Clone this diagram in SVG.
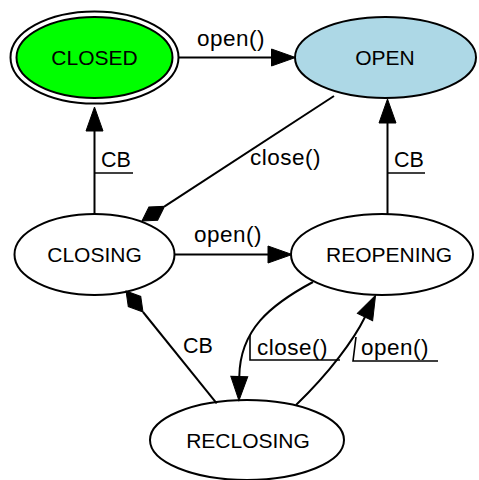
<svg xmlns="http://www.w3.org/2000/svg" width="479" height="480" viewBox="0 0 479 480">
<style>
.n{stroke:#000;stroke-width:2}
.t{font-family:"Liberation Sans",Arial,sans-serif;font-size:21px;fill:#000;text-anchor:middle}
.e{fill:none;stroke:#000;stroke-width:2}
.l{font-family:"Liberation Sans",Arial,sans-serif;font-size:22.5px;fill:#000;letter-spacing:0.5px}
.c{font-family:"Liberation Sans",Arial,sans-serif;font-size:21.5px;fill:#000}
.d{fill:none;stroke:#000;stroke-width:1.6}
</style>
<defs>
<marker id="arr" markerUnits="userSpaceOnUse" orient="auto" markerWidth="26" markerHeight="20" refX="0" refY="0" viewBox="0 -10 26 20" overflow="visible">
<path d="M0,-8.5 L24,0 L0,8.5 Z" fill="#000" stroke="#000" stroke-width="1"/>
</marker>
<marker id="dia" markerUnits="userSpaceOnUse" orient="auto" markerWidth="28" markerHeight="20" refX="0" refY="0" viewBox="0 -10 28 20" overflow="visible">
<path d="M0,0 L13.5,-8 L27,0 L13.5,8 Z" fill="#000" stroke="#000" stroke-width="1"/>
</marker>
</defs>
<rect width="479" height="480" fill="#fff"/>
<g id="CLOSED">
<ellipse class="n" cx="94.5" cy="57.5" rx="84" ry="46" fill="none"/>
<ellipse class="n" cx="94.5" cy="57.5" rx="78" ry="40.5" fill="#00ff00"/>
<text class="t" x="94.5" y="65">CLOSED</text>
</g>
<g id="OPEN">
<ellipse class="n" cx="385.5" cy="57.5" rx="90.5" ry="40.5" fill="#add8e6"/>
<text class="t" x="385" y="65">OPEN</text>
</g>
<g id="CLOSING">
<ellipse class="n" cx="94.5" cy="254.5" rx="80" ry="40.5" fill="#fff"/>
<text class="t" x="94.5" y="261.5">CLOSING</text>
</g>
<g id="REOPENING">
<ellipse class="n" cx="382" cy="254.5" rx="91" ry="40.5" fill="#fff"/>
<text class="t" x="389" y="261.5">REOPENING</text>
</g>
<g id="RECLOSING">
<ellipse class="n" cx="247" cy="440" rx="97" ry="40" fill="#fff"/>
<text class="t" x="248" y="447.5">RECLOSING</text>
</g>
<g id="connectors">
<path class="e" d="M178.5,57.5 H271.5" marker-end="url(#arr)"/>
<text class="l" x="197" y="46">open()</text>
<path class="e" d="M334,96 L164.6,206.3" marker-end="url(#dia)"/>
<text class="l" x="250" y="165">close()</text>
<path class="e" d="M94.5,214 V131" marker-end="url(#arr)"/>
<text class="c" x="101" y="167">CB</text>
<path class="d" d="M94.5,173 H133"/>
<path class="e" d="M387.5,214 V123" marker-end="url(#arr)"/>
<text class="c" x="394" y="167">CB</text>
<path class="d" d="M387.5,173 H425"/>
<path class="e" d="M174.5,254.5 H268" marker-end="url(#arr)"/>
<text class="l" x="194" y="242">open()</text>
<path class="e" d="M313,282 C270,305 240,330 239.3,376.5" marker-end="url(#arr)"/>
<text class="l" x="257" y="355">close()</text>
<path class="d" d="M250,335 V360 H340"/>
<path class="e" d="M296,405 C330,372 354,339.5 365,317" marker-end="url(#arr)"/>
<text class="l" x="361" y="355">open()</text>
<path class="d" d="M356,337 L353,361 H438"/>
<path class="e" d="M216.7,403.3 L143,312" marker-end="url(#dia)"/>
<text class="c" x="183" y="353">CB</text>
</g>
</svg>
